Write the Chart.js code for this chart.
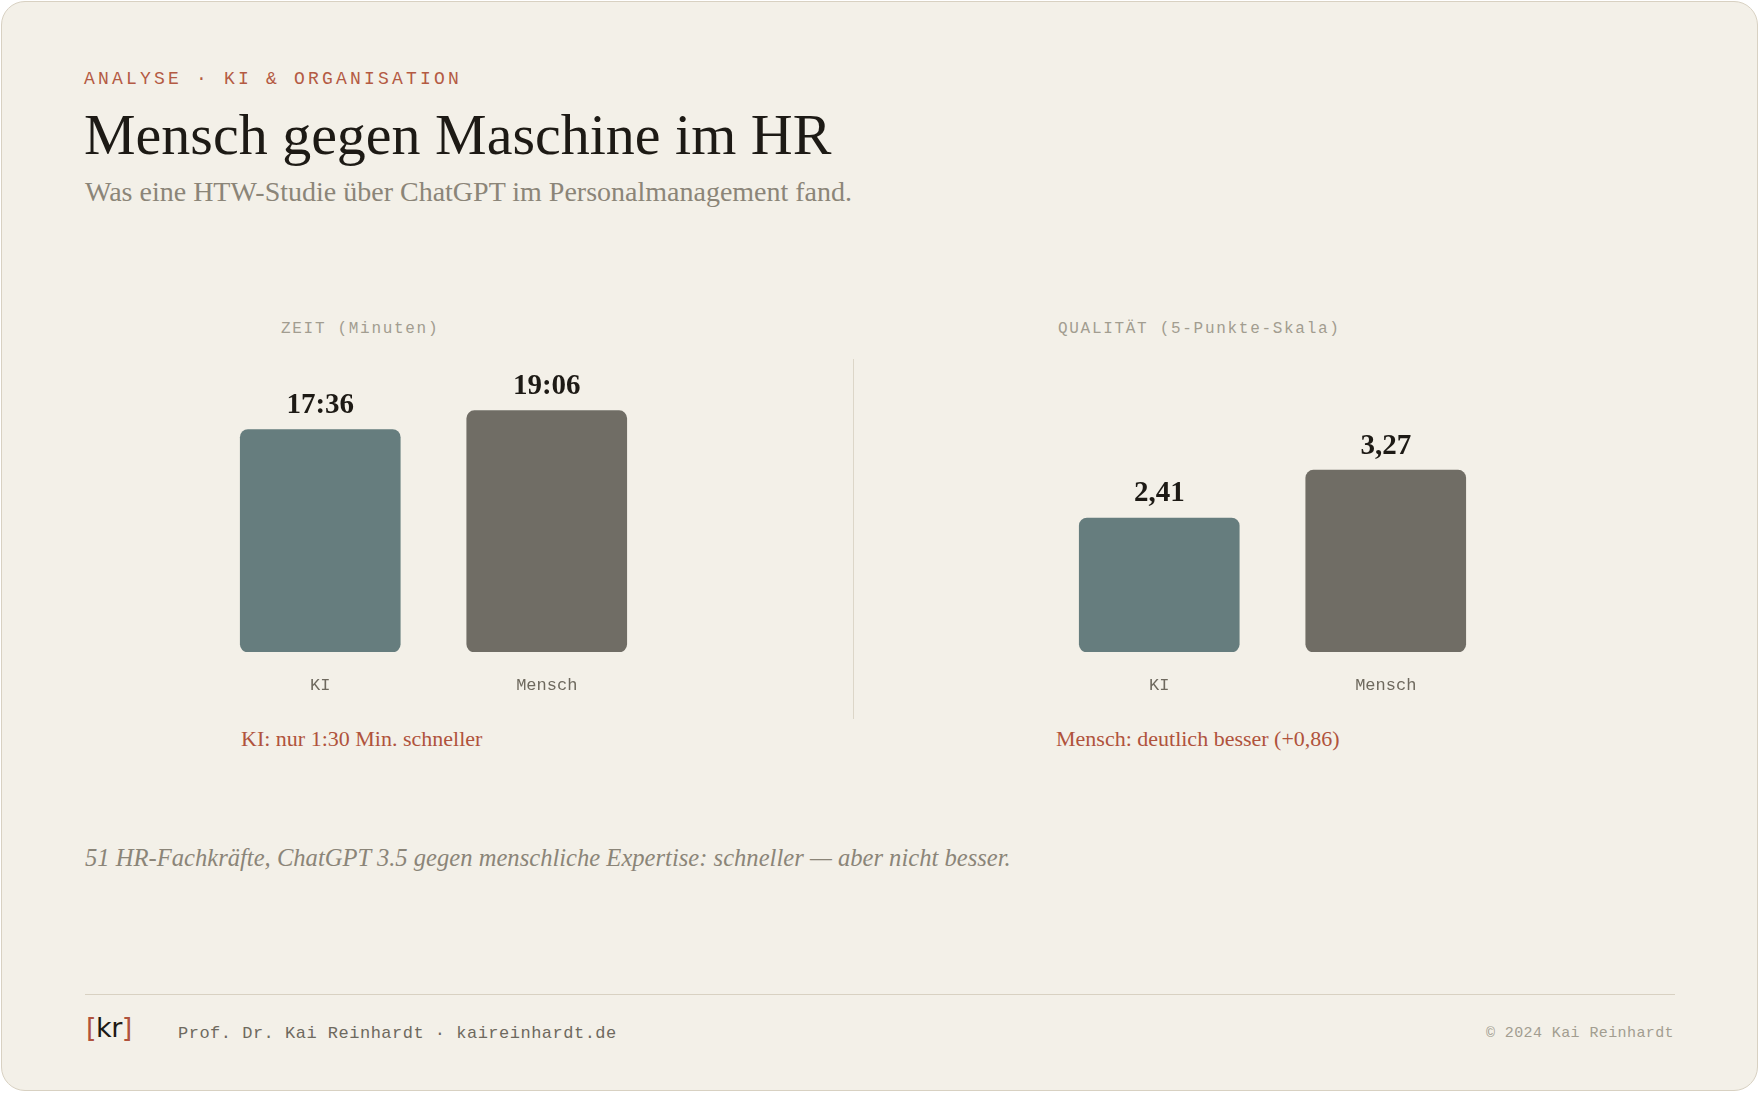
<!DOCTYPE html>
<html>
<head>
<meta charset="utf-8">
<script src="https://cdn.jsdelivr.net/npm/chart.js"></script>
<style>
  html, body { margin: 0; padding: 0; background: #ffffff; }
  body { width: 1760px; height: 1093px; position: relative; overflow: hidden; }
  .card {
    position: absolute; left: 1px; top: 1px; width: 1755px; height: 1088px;
    background: #f3f0e8; border: 1.5px solid #d8d1c2; border-radius: 24px;
  }
  .abs { position: absolute; white-space: nowrap; }
  .mono { font-family: "Liberation Mono", "DejaVu Sans Mono", monospace; }
  .serif { font-family: "Liberation Serif", "DejaVu Serif", serif; }
  #eyebrow { left: 84px; top: 69px; font-size: 18px; letter-spacing: 3.2px; color: #b45a43; }
  #title { left: 84px; top: 106px; font-size: 58px; color: #1d1a15; line-height: 1; }
  #subtitle { left: 85px; top: 178px; font-size: 28px; color: #8b8578; line-height: 1; }
  .section { top: 320px; font-size: 16px; letter-spacing: 1.7px; color: #a29d90; }
  #divider { left: 853px; top: 359px; width: 1px; height: 360px; background: #dcd6c8; }
  .note { top: 728px; font-size: 22px; color: #b0533c; line-height: 1; }
  #footnote { left: 85px; top: 846px; font-size: 24.6px; font-style: italic; color: #8b8578; line-height: 1; }
  #rule { left: 85px; top: 994px; width: 1590px; height: 1px; background: #d8d1c2; }
  #logo { left: 86px; top: 1014px; font-family: "DejaVu Sans", sans-serif; font-size: 27px; color: #1d1a15; line-height: 1; letter-spacing: -0.5px; }
  #logo span { color: #b0533c; }
  #byline { left: 178px; top: 1024px; font-size: 17px; letter-spacing: 0.5px; color: #6e695e; }
  #copy { right: 86px; top: 1025px; font-size: 15px; letter-spacing: 0.4px; color: #a29d90; }
  .chartbox { position: absolute; top: 350px; width: 453px; height: 369px; }
</style>
</head>
<body>
<div class="card"></div>
<div id="eyebrow" class="abs mono">ANALYSE · KI &amp; ORGANISATION</div>
<div id="title" class="abs serif">Mensch gegen Maschine im HR</div>
<div id="subtitle" class="abs serif">Was eine HTW-Studie über ChatGPT im Personalmanagement fand.</div>

<div class="abs mono section" style="left:281px">ZEIT (Minuten)</div>
<div class="abs mono section" style="left:1058px">QUALITÄT (5-Punkte-Skala)</div>

<div class="chartbox" style="left:207px"><canvas id="timeChart"></canvas></div>
<div id="divider" class="abs"></div>
<div class="chartbox" style="left:1046px"><canvas id="qualityChart"></canvas></div>

<div class="abs serif note" style="left:241px">KI: nur 1:30 Min. schneller</div>
<div class="abs serif note" style="left:1056px">Mensch: deutlich besser (+0,86)</div>

<div id="footnote" class="abs serif">51 HR-Fachkräfte, ChatGPT 3.5 gegen menschliche Expertise: schneller — aber nicht besser.</div>

<div id="rule" class="abs"></div>
<div id="logo" class="abs"><span>[</span>kr<span>]</span></div>
<div id="byline" class="abs mono">Prof. Dr. Kai Reinhardt · kaireinhardt.de</div>
<div id="copy" class="abs mono">© 2024 Kai Reinhardt</div>

<script>
  // data
  const categories = ['KI', 'Mensch'];
  const timeMinutes = [17.6, 19.1];      // 17:36 and 19:06
  const qualityScores = [2.41, 3.27];    // 5-point scale
  const barColors = ['#667d7e', '#706d65'];

  function fmtTime(v) {
    const m = Math.floor(v);
    const s = Math.round((v - m) * 60);
    return m + ':' + String(s).padStart(2, '0');
  }
  function fmtScore(v) {
    return v.toFixed(2).replace('.', ',');
  }

  // draws the number above each bar
  const valueLabels = {
    id: 'valueLabels',
    afterDatasetsDraw(chart, args, opts) {
      const ctx = chart.ctx;
      const meta = chart.getDatasetMeta(0);
      const vals = chart.data.datasets[0].data;
      ctx.save();
      ctx.font = 'bold 29px "Liberation Serif", serif';
      ctx.fillStyle = '#1d1a15';
      ctx.textAlign = 'center';
      ctx.textBaseline = 'middle';
      meta.data.forEach((bar, i) => {
        ctx.fillText(opts.format(vals[i]), bar.x, bar.y - 24);
      });
      ctx.restore();
    }
  };

  function makeChart(id, values, yMax, format) {
    return new Chart(document.getElementById(id), {
      type: 'bar',
      data: {
        labels: categories,
        datasets: [{
          data: values,
          backgroundColor: barColors,
          borderRadius: 8,
          borderSkipped: false,
          barThickness: 160
        }]
      },
      options: {
        responsive: true,
        maintainAspectRatio: false,
        animation: false,
        layout: { padding: { top: 24, left: 0, right: 0, bottom: 0 } },
        plugins: {
          legend: { display: false },
          tooltip: { enabled: false },
          valueLabels: { format: format }
        },
        scales: {
          y: { display: false, min: 0, max: yMax },
          x: {
            grid: { display: false, drawTicks: false },
            border: { display: false },
            ticks: {
              color: '#6e695e',
              padding: 25,
              font: { family: '"Liberation Mono", monospace', size: 17, lineHeight: 1 }
            }
          }
        }
      },
      plugins: [valueLabels]
    });
  }

  makeChart('timeChart', timeMinutes, 22, fmtTime);
  makeChart('qualityChart', qualityScores, 5, fmtScore);
</script>
</body>
</html>
